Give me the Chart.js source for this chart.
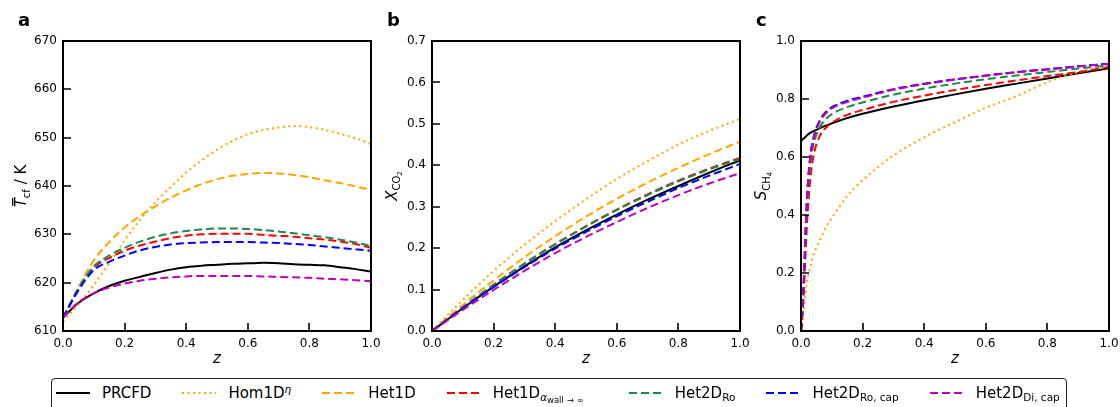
<!DOCTYPE html>
<html>
<head>
<meta charset="utf-8">
<script src="https://cdn.jsdelivr.net/npm/chart.js@4.4.1/dist/chart.umd.min.js"></script>
<style>
  body { margin: 0; background: #fff; }
  #wrap { position: relative; width: 1120px; height: 407px; overflow: hidden; font-family: "DejaVu Sans", sans-serif; }
  #wrap canvas { position: absolute; top: 0; }
  #legend { position: absolute; left: 51px; top: 378px; display: flex; align-items: center;
    padding: 5px 6px 12px 4px; border: 1px solid #222; border-radius: 4px; background: #fff;
    font-size: 15px; color: #000; }
  .it { display: flex; align-items: center; height: 18px; margin-right: 31px; white-space: nowrap; }
  .it:last-child { margin-right: 0; }
  .it svg { margin-right: 12px; }
  .it sub { font-size: 0.7em; vertical-align: -0.28em; line-height: 0; }
  .it sup { font-size: 0.7em; vertical-align: 0.5em; line-height: 0; }
  .it sub sub { font-size: 0.8em; vertical-align: -0.3em; }
  .it .rel { margin: 0 3px; }
  .it .wide { min-width: 105px; }
</style>
</head>
<body>
<div id="wrap">
  <canvas id="ca" width="380" height="370" style="left:0px"></canvas>
  <canvas id="cb" width="380" height="370" style="left:369px"></canvas>
  <canvas id="cc" width="380" height="370" style="left:738px"></canvas>
  <div id="legend"></div>
</div>
<script>
  // series, same order everywhere
  const seriesNames = [
    "PRCFD",
    "Hom1D<sup><i>η</i></sup>",
    "Het1D",
    "Het1D<sub><i>α</i><sub>wall<span class=\"rel\">→</span>∞</sub></sub>",
    "Het2D<sub>Ro</sub>",
    "Het2D<sub>Ro, cap</sub>",
    "Het2D<sub>Di, cap</sub>"
  ];

  const xTicks = [0, 0.2, 0.4, 0.6, 0.8, 1.0];

  // a: mean catalyst temperature / K
  const zA = [0, 0.05, 0.1, 0.15, 0.2, 0.25, 0.3, 0.35, 0.4, 0.45, 0.5, 0.55, 0.6, 0.65, 0.7, 0.75, 0.8, 0.85, 0.9, 0.95, 1.0];
  const tPRCFD = [612.8, 615.8, 617.8, 619.3, 620.4, 621.2, 622.0, 622.7, 623.2, 623.5, 623.7, 623.9, 624.0, 624.1, 624.0, 623.8, 623.7, 623.6, 623.2, 622.8, 622.3];
  const tHom1D = [612.0, 615.5, 619.5, 624.0, 628.8, 633.0, 636.7, 639.8, 642.8, 645.3, 647.5, 649.3, 650.7, 651.6, 652.1, 652.4, 652.2, 651.6, 650.8, 649.9, 648.7];
  const tHet1D = [612.5, 619.0, 624.6, 628.4, 631.4, 633.8, 635.8, 637.6, 639.1, 640.4, 641.4, 642.1, 642.5, 642.7, 642.6, 642.3, 641.8, 641.2, 640.6, 639.9, 639.2];
  const tHet1DAlpha = [612.8, 618.7, 623.1, 625.1, 626.6, 627.7, 628.5, 629.2, 629.7, 630.0, 630.1, 630.1, 630.1, 629.9, 629.7, 629.5, 629.2, 628.9, 628.5, 628.0, 627.2];
  const tHet2DRo = [612.8, 618.8, 623.4, 625.6, 627.2, 628.5, 629.5, 630.2, 630.7, 631.0, 631.2, 631.2, 631.1, 630.9, 630.6, 630.2, 629.8, 629.4, 628.9, 628.3, 627.6];
  const tHet2DRoCap = [612.7, 618.4, 622.6, 624.3, 625.6, 626.7, 627.4, 627.9, 628.2, 628.3, 628.4, 628.4, 628.4, 628.3, 628.2, 628.0, 627.8, 627.5, 627.2, 626.9, 626.6];
  const tHet2DDiCap = [612.8, 615.9, 617.8, 619.0, 619.8, 620.4, 620.8, 621.1, 621.3, 621.4, 621.4, 621.4, 621.4, 621.3, 621.2, 621.1, 621.0, 620.8, 620.7, 620.5, 620.3];
  const yTicksA = [610, 620, 630, 640, 650, 660, 670];

  // b: CO2 conversion
  const zB = [0, 0.1, 0.2, 0.3, 0.4, 0.5, 0.6, 0.7, 0.8, 0.9, 1.0];
  const xPRCFD = [0, 0.055, 0.107, 0.156, 0.202, 0.243, 0.281, 0.317, 0.350, 0.382, 0.412];
  const xHom1D = [0, 0.075, 0.145, 0.208, 0.265, 0.318, 0.367, 0.410, 0.450, 0.483, 0.512];
  const xHet1D = [0, 0.063, 0.122, 0.178, 0.229, 0.276, 0.319, 0.358, 0.394, 0.427, 0.457];
  const xHet1DAlpha = [0, 0.057, 0.112, 0.163, 0.210, 0.253, 0.293, 0.330, 0.363, 0.392, 0.418];
  const xHet2DRo = [0, 0.057, 0.111, 0.162, 0.209, 0.252, 0.292, 0.328, 0.361, 0.390, 0.415];
  const xHet2DRoCap = [0, 0.055, 0.106, 0.154, 0.199, 0.239, 0.277, 0.312, 0.345, 0.375, 0.403];
  const xHet2DDiCap = [0, 0.051, 0.099, 0.145, 0.188, 0.227, 0.263, 0.297, 0.328, 0.356, 0.381];
  const yTicksB = [0, 0.1, 0.2, 0.3, 0.4, 0.5, 0.6, 0.7];

  // c: CH4 selectivity
  const zC = [0, 0.005, 0.01, 0.015, 0.02, 0.03, 0.04, 0.06, 0.08, 0.1, 0.15, 0.2, 0.3, 0.4, 0.5, 0.6, 0.7, 0.8, 0.9, 1.0];
  const sPRCFD = [0.655, 0.660, 0.665, 0.670, 0.675, 0.683, 0.689, 0.699, 0.708, 0.716, 0.734, 0.749, 0.774, 0.796, 0.816, 0.835, 0.853, 0.871, 0.889, 0.906];
  const sHom1D = [0, 0.02, 0.09, 0.13, 0.17, 0.22, 0.26, 0.31, 0.355, 0.39, 0.465, 0.52, 0.605, 0.668, 0.72, 0.77, 0.81, 0.858, 0.892, 0.911];
  const sHet1D = [0, 0.08, 0.2, 0.35, 0.47, 0.6, 0.66, 0.72, 0.75, 0.768, 0.79, 0.805, 0.832, 0.851, 0.867, 0.88, 0.892, 0.902, 0.912, 0.921];
  const sHet1DAlpha = [0, 0.06, 0.15, 0.27, 0.38, 0.52, 0.6, 0.67, 0.70, 0.718, 0.745, 0.762, 0.79, 0.812, 0.831, 0.848, 0.864, 0.879, 0.893, 0.91];
  const sHet2DRo = [0, 0.07, 0.18, 0.32, 0.44, 0.57, 0.64, 0.70, 0.73, 0.748, 0.772, 0.788, 0.815, 0.836, 0.853, 0.868, 0.881, 0.893, 0.905, 0.916];
  const sHet2DRoCap = [0, 0.08, 0.2, 0.35, 0.47, 0.6, 0.665, 0.725, 0.755, 0.772, 0.794, 0.808, 0.834, 0.853, 0.868, 0.881, 0.893, 0.903, 0.913, 0.922];
  const sHet2DDiCap = [0, 0.08, 0.2, 0.35, 0.47, 0.6, 0.66, 0.72, 0.75, 0.768, 0.79, 0.805, 0.832, 0.851, 0.867, 0.88, 0.892, 0.902, 0.912, 0.921];
  const yTicksC = [0, 0.2, 0.4, 0.6, 0.8, 1.0];

  const colors = ["#000000", "#ffa500", "#ffa500", "#ff0000", "#1b8a4b", "#0000ff", "#bf00bf"];
  const dashes = [[], [2, 3.5], [8, 4], [8, 4], [8, 4], [8, 4], [8, 4]];

  const FONT = "DejaVu Sans";

  function drawParts(ctx, parts, cx, base, rotate) {
    let w = 0;
    parts.forEach((p) => { ctx.font = p.font; p.w = ctx.measureText(p.t).width; w += p.w; });
    ctx.save();
    ctx.translate(cx, base);
    if (rotate) ctx.rotate(-Math.PI / 2);
    ctx.fillStyle = "#000";
    ctx.textBaseline = "alphabetic";
    ctx.textAlign = "left";
    let x = -w / 2;
    parts.forEach((p) => {
      ctx.font = p.font;
      ctx.fillText(p.t, x, p.dy || 0);
      if (p.over) ctx.fillRect(x + 1.5, -14, p.w - 1.5, 1.3);
      x += p.w;
    });
    ctx.restore();
  }

  const decor = {
    id: "decor",
    afterDatasetsDraw(chart) {
      const o = chart.options.plugins.decor;
      const { ctx, chartArea: a, scales } = chart;
      ctx.save();
      ctx.strokeStyle = "#000";
      ctx.lineWidth = 2;
      ctx.strokeRect(a.left, a.top, a.right - a.left, a.bottom - a.top);
      ctx.lineWidth = 1.6;
      ctx.beginPath();
      scales.x.ticks.forEach((t) => {
        const px = Math.round(scales.x.getPixelForValue(t.value));
        ctx.moveTo(px, a.bottom);
        ctx.lineTo(px, a.bottom - 8);
      });
      scales.y.ticks.forEach((t) => {
        const py = Math.round(scales.y.getPixelForValue(t.value));
        ctx.moveTo(a.left, py);
        ctx.lineTo(a.left + 8, py);
      });
      ctx.stroke();

      ctx.fillStyle = "#000";
      ctx.font = "bold 18px '" + FONT + "'";
      ctx.textBaseline = "alphabetic";
      ctx.fillText(o.letter, a.left - 45, 26);

      drawParts(ctx, [{ t: "z", font: "italic 15px '" + FONT + "'" }], (a.left + a.right) / 2, 363, false);
      drawParts(ctx, o.yTitle, a.left - o.yOff, (a.top + a.bottom) / 2, true);
      ctx.restore();
    }
  };

  function makePanel(id, zs, series, yTicks, yFmt, letter, yTitle, yOff) {
    const n = series.length;
    const datasets = series.map((vals, i) => ({
      label: seriesNames[i],
      data: zs.map((z, k) => ({ x: z, y: vals[k] })),
      borderColor: colors[i],
      borderDash: dashes[i],
      borderWidth: 2,
      pointRadius: 0,
      fill: false,
      cubicInterpolationMode: "monotone",
      order: n - 1 - i
    }));
    return new Chart(document.getElementById(id), {
      type: "line",
      data: { datasets },
      plugins: [decor],
      options: {
        responsive: false,
        animation: false,
        devicePixelRatio: 1,
        layout: { padding: { left: 0, right: 9, top: 41, bottom: 0 } },
        plugins: {
          legend: { display: false },
          tooltip: { enabled: false },
          decor: { letter, yTitle, yOff }
        },
        scales: {
          x: {
            type: "linear",
            min: 0,
            max: 1,
            afterBuildTicks: (s) => { s.ticks = xTicks.map((v) => ({ value: v })); },
            afterFit: (s) => { s.height = 39; s.paddingLeft = 0; s.paddingRight = 0; },
            grid: { display: false, drawTicks: false },
            border: { display: false },
            ticks: {
              color: "#000",
              padding: 6,
              maxRotation: 0,
              font: { family: FONT, size: 12 },
              callback: (v) => Number(v).toFixed(1)
            }
          },
          y: {
            min: yTicks[0],
            max: yTicks[yTicks.length - 1],
            afterBuildTicks: (s) => { s.ticks = yTicks.map((v) => ({ value: v })); },
            afterFit: (s) => { s.width = 63; s.paddingTop = 0; s.paddingBottom = 0; },
            grid: { display: false, drawTicks: false },
            border: { display: false },
            ticks: {
              color: "#000",
              padding: 6,
              font: { family: FONT, size: 12 },
              callback: yFmt
            }
          }
        }
      }
    });
  }

  const f15 = "15px '" + FONT + "'";
  const i15 = "italic 15px '" + FONT + "'";
  const s10 = "10px '" + FONT + "'";
  const s7 = "7px '" + FONT + "'";

  makePanel("ca", zA,
    [tPRCFD, tHom1D, tHet1D, tHet1DAlpha, tHet2DRo, tHet2DRoCap, tHet2DDiCap],
    yTicksA, (v) => String(Math.round(v)), "a",
    [{ t: "T", font: i15, over: true }, { t: "cf", font: s10, dy: 3.5 }, { t: " / K", font: f15 }], 37);

  makePanel("cb", zB,
    [xPRCFD, xHom1D, xHet1D, xHet1DAlpha, xHet2DRo, xHet2DRoCap, xHet2DDiCap],
    yTicksB, (v) => Number(v).toFixed(1), "b",
    [{ t: "X", font: i15 }, { t: "CO", font: s10, dy: 3.5 }, { t: "2", font: s7, dy: 5.5 }], 35.5);

  makePanel("cc", zC,
    [sPRCFD, sHom1D, sHet1D, sHet1DAlpha, sHet2DRo, sHet2DRoCap, sHet2DDiCap],
    yTicksC, (v) => Number(v).toFixed(1), "c",
    [{ t: "S", font: i15 }, { t: "CH", font: s10, dy: 3.5 }, { t: "4", font: s7, dy: 5.5 }], 35);

  // legend under the three panels
  const legend = document.getElementById("legend");
  seriesNames.forEach((name, i) => {
    const it = document.createElement("span");
    it.className = "it";
    const dash = dashes[i].length ? ' stroke-dasharray="' + dashes[i].join(" ") + '"' : "";
    it.innerHTML = '<svg width="34" height="4"><line x1="0" y1="2" x2="34" y2="2" stroke="' + colors[i] +
      '" stroke-width="2"' + dash + '/></svg><span' + (i === 3 ? ' class="wide"' : "") + '>' + name + "</span>";
    legend.appendChild(it);
  });
</script>
</body>
</html>
